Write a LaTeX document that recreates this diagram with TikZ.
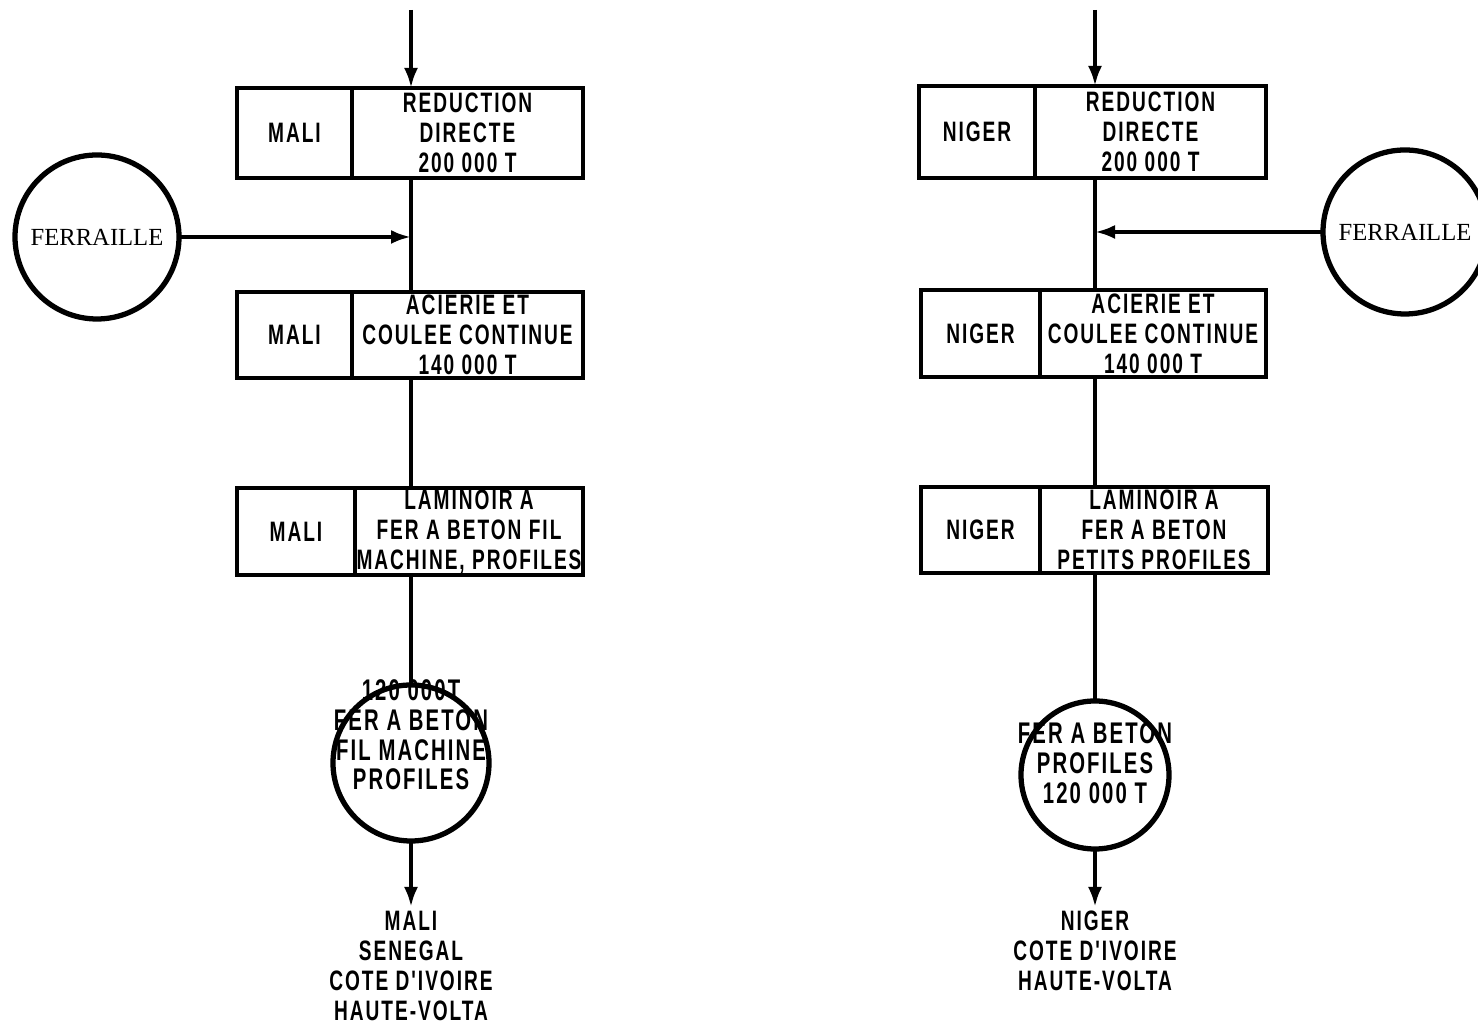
\documentclass[tikz,border=0pt]{standalone}
\usepackage{fontspec}
\usetikzlibrary{arrows.meta,positioning}
\newfontfamily\stencil[FakeStretch=0.68,LetterSpace=7]{Liberation Sans}
\newfontfamily\typeserif{Liberation Serif}

\tikzset{
  namecell/.style={draw, line width=1.2pt, outer sep=0pt, inner sep=0pt,
    font=\stencil\bfseries\fontsize{8}{8.5}\selectfont},
  taskcell/.style={namecell, anchor=west, align=center},
  scrap/.style={draw, circle, line width=1.5pt, outer sep=0pt, inner sep=0pt, minimum size=1.64cm,
    font=\typeserif\fontsize{7}{8}\selectfont},
  product/.style={draw, circle, line width=1.5pt, outer sep=0pt, inner sep=0pt},
  prodtext/.style={align=center, inner sep=0pt, font=\stencil\bfseries\fontsize{8.5}{8.4}\selectfont},
  dest/.style={anchor=north, align=center, inner sep=1pt, font=\stencil\bfseries\fontsize{8}{8.5}\selectfont},
  link/.style={line width=1.1pt},
  flow/.style={link, -{Latex[length=0.2cm,width=0.14cm]}},
}

\begin{document}
\begin{tikzpicture}
    \useasboundingbox (0,0) rectangle (14.78,10.34);

    % spines of the two lines
    \coordinate (ltop) at (4.11,10.24);
    \coordinate (rtop) at (10.95,10.24);

    % MALI: reduction directe
    \node[namecell, minimum width=1.15cm, minimum height=0.90cm] (mred) at (2.945,9.01) {MALI};
    \node[taskcell, minimum width=2.31cm, minimum height=0.90cm] (mredt) at (mred.east) {REDUCTION\\DIRECTE\\200 000 T};

    % MALI: acierie
    \node[namecell, minimum width=1.15cm, minimum height=0.86cm] (maci) at (2.945,6.99) {MALI};
    \node[taskcell, minimum width=2.31cm, minimum height=0.86cm] (macit) at (maci.east) {ACIERIE ET\\COULEE CONTINUE\\140 000 T};

    % MALI: laminoir
    \node[namecell, minimum width=1.18cm, minimum height=0.87cm] (mlam) at (2.96,5.025) {MALI};
    \node[taskcell, minimum width=2.28cm, minimum height=0.87cm] (mlamt) at (mlam.east) {LAMINOIR A\\FER A BETON FIL\\MACHINE, PROFILES};

    % NIGER: reduction directe
    \node[namecell, minimum width=1.16cm, minimum height=0.92cm] (nred) at (9.77,9.02) {NIGER};
    \node[taskcell, minimum width=2.31cm, minimum height=0.92cm] (nredt) at (nred.east) {REDUCTION\\DIRECTE\\200 000 T};

    % NIGER: acierie
    \node[namecell, minimum width=1.19cm, minimum height=0.87cm] (naci) at (9.805,7.005) {NIGER};
    \node[taskcell, minimum width=2.26cm, minimum height=0.87cm] (nacit) at (naci.east) {ACIERIE ET\\COULEE CONTINUE\\140 000 T};

    % NIGER: laminoir
    \node[namecell, minimum width=1.19cm, minimum height=0.86cm] (nlam) at (9.805,5.04) {NIGER};
    \node[taskcell, minimum width=2.28cm, minimum height=0.86cm] (nlamt) at (nlam.east) {LAMINOIR A\\FER A BETON\\PETITS PROFILES};

    % scrap inputs
    \node[scrap] (lscrap) at (0.97,7.97) {FERRAILLE};
    \node[scrap] (rscrap) at (14.05,8.02) {FERRAILLE};

    % products
    \node[product, minimum size=1.56cm] (lprod) at (4.11,2.71) {};
    \node[prodtext] (lprodtext) at ([yshift=0.28cm]lprod.center) {120 000T\\FER A BETON\\FIL MACHINE\\PROFILES};
    \node[product, minimum size=1.48cm] (rprod) at (10.95,2.59) {};
    \node[prodtext, font=\stencil\bfseries\fontsize{8.5}{8.5}\selectfont] (rprodtext) at ([yshift=0.12cm]rprod.center) {FER A BETON\\PROFILES\\120 000 T};

    % markets
    \node[dest] (ldest) at (4.11,1.27) {MALI\\SENEGAL\\COTE D'IVOIRE\\HAUTE-VOLTA};
    \node[dest] (rdest) at (10.95,1.27) {NIGER\\COTE D'IVOIRE\\HAUTE-VOLTA};

    % left line
    \draw[flow] (ltop) -- (ltop |- mredt.north);
    \draw[link] (ltop |- mredt.south) -- (ltop |- macit.north);
    \draw[flow] (lscrap.east) -- (lscrap.east -| ltop);
    \draw[link] (ltop |- macit.south) -- (ltop |- mlamt.north);
    \draw[link] (ltop |- mlamt.south) -- (lprod.north);
    \draw[flow] (lprod.south) -- (ldest.north);

    % right line
    \draw[flow] (rtop) -- (rtop |- nredt.north);
    \draw[link] (rtop |- nredt.south) -- (rtop |- nacit.north);
    \draw[flow] (rscrap.west) -- (rscrap.west -| rtop);
    \draw[link] (rtop |- nacit.south) -- (rtop |- nlamt.north);
    \draw[link] (rtop |- nlamt.south) -- (rprod.north);
    \draw[flow] (rprod.south) -- (rdest.north);
\end{tikzpicture}
\end{document}
